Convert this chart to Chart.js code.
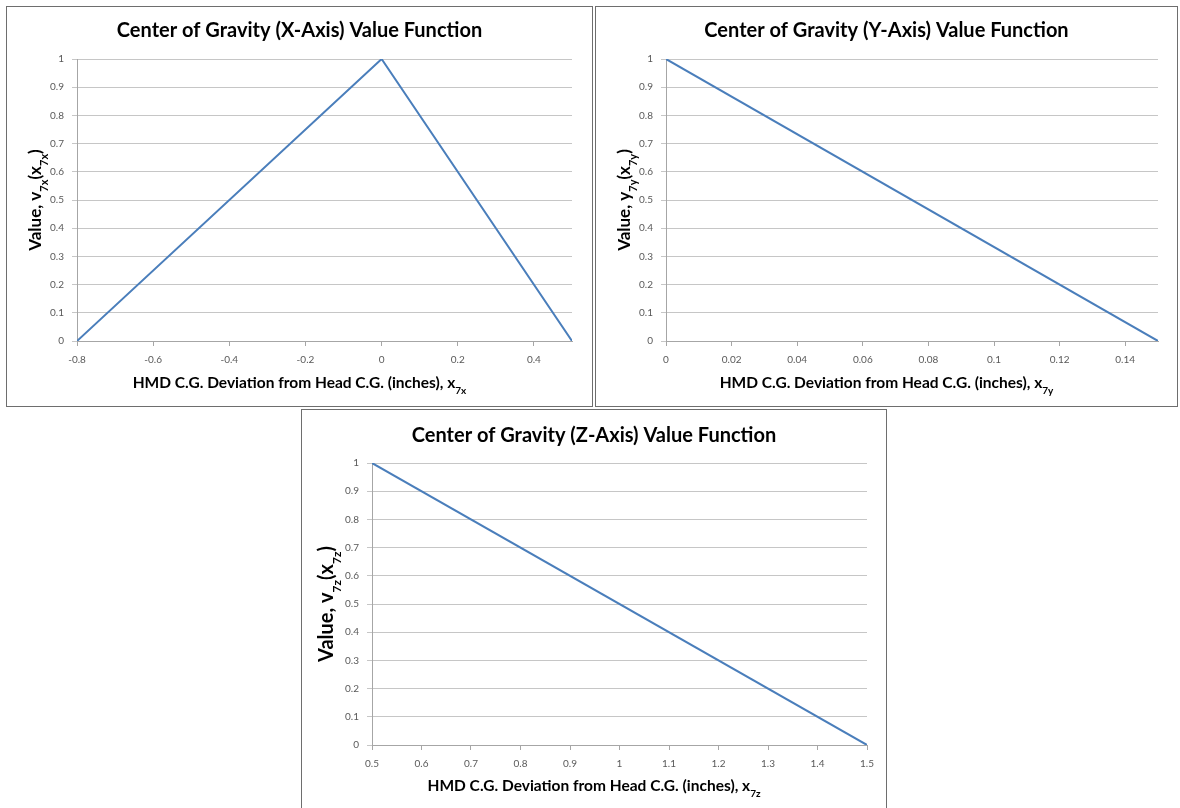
<!DOCTYPE html>
<html>
<head>
<meta charset="utf-8">
<title>Center of Gravity Value Functions</title>
<script src="https://cdn.jsdelivr.net/npm/chart.js@4.4.1/dist/chart.umd.min.js"></script>
<style>
  html, body { margin: 0; padding: 0; background: #fff; width: 1180px; height: 808px; overflow: hidden; }
  .panel { position: absolute; border: 1px solid #6e6e6e; background: #fff; }
  .panel canvas { display: block; }
</style>
</head>
<body>
<div class="panel" style="left:6px; top:6px;"><canvas id="cgX" width="585" height="399"></canvas></div>
<div class="panel" style="left:595px; top:6px;"><canvas id="cgY" width="581" height="399"></canvas></div>
<div class="panel" style="left:301px; top:409px;"><canvas id="cgZ" width="584" height="399"></canvas></div>
<script>
// Value axis (shared by all three panels)
const valueTicks = [0, 0.1, 0.2, 0.3, 0.4, 0.5, 0.6, 0.7, 0.8, 0.9, 1];

// X-axis deviation value function
const devX = [-0.8, 0, 0.5];
const valX = [0, 1, 0];
const devXTicks = [-0.8, -0.6, -0.4, -0.2, 0, 0.2, 0.4];

// Y-axis deviation value function
const devY = [0, 0.15];
const valY = [1, 0];
const devYTicks = [0, 0.02, 0.04, 0.06, 0.08, 0.1, 0.12, 0.14];

// Z-axis deviation value function
const devZ = [0.5, 1.5];
const valZ = [1, 0];
const devZTicks = [0.5, 0.6, 0.7, 0.8, 0.9, 1, 1.1, 1.2, 1.3, 1.4, 1.5];

const FONT = 'Lato, "Open Sans", "DejaVu Sans", sans-serif';
const fmt = v => String(+Number(v).toFixed(4));

// Draws a run of text pieces, some of them as subscripts, centred on (0,0)
function drawRich(ctx, parts, size) {
  const subSize = Math.round(size * 0.62);
  const fontFor = sub => 'bold ' + (sub ? subSize : size) + 'px ' + FONT;
  let total = 0;
  const widths = parts.map(p => {
    ctx.font = fontFor(p[1]);
    const w = ctx.measureText(p[0]).width;
    total += w;
    return w;
  });
  let x = -total / 2;
  ctx.textAlign = 'left';
  ctx.textBaseline = 'alphabetic';
  parts.forEach((p, i) => {
    ctx.font = fontFor(p[1]);
    ctx.fillText(p[0], x, p[1] ? size * 0.36 + size * 0.32 : size * 0.32);
    x += widths[i];
  });
}

const textPlugin = {
  id: 'panelText',
  afterDraw(chart, args, opts) {
    const ctx = chart.ctx;
    const area = chart.chartArea;
    const w = chart.width;
    ctx.save();
    ctx.fillStyle = '#000';
    // chart title
    ctx.font = 'bold ' + opts.titleSize + 'px ' + FONT;
    ctx.textAlign = 'center';
    ctx.textBaseline = 'middle';
    ctx.fillText(opts.title, w / 2, opts.titleY);
    // horizontal axis title
    ctx.save();
    ctx.translate(w / 2, opts.xTitleY);
    drawRich(ctx, opts.xTitle, opts.xTitleSize);
    ctx.restore();
    // vertical axis title
    ctx.save();
    ctx.translate(opts.yTitleX, (area.top + area.bottom) / 2);
    ctx.rotate(-Math.PI / 2);
    drawRich(ctx, opts.yTitle, opts.yTitleSize);
    ctx.restore();
    ctx.restore();
  }
};

function makeChart(id, xs, ys, xTicks, text, pad) {
  const points = xs.map((x, i) => ({ x: x, y: ys[i] }));
  return new Chart(document.getElementById(id), {
    type: 'line',
    data: {
      datasets: [{
        data: points,
        borderColor: '#4a7ebb',
        borderWidth: 2,
        pointRadius: 0,
        tension: 0,
        fill: false
      }]
    },
    options: {
      responsive: false,
      animation: false,
      devicePixelRatio: 1,
      events: [],
      layout: { padding: pad },
      plugins: {
        legend: { display: false },
        tooltip: { enabled: false },
        title: { display: false },
        panelText: text
      },
      scales: {
        x: {
          type: 'linear',
          min: Math.min(...xs),
          max: Math.max(...xs),
          afterBuildTicks: s => { s.ticks = xTicks.map(v => ({ value: v })); },
          afterFit: s => { s.height = 28; },
          grid: { drawOnChartArea: false, drawTicks: true, tickLength: 5, color: '#a6a6a6' },
          border: { display: true, color: '#a6a6a6', width: 1 },
          ticks: {
            padding: 8,
            color: '#595959',
            font: { family: FONT, size: 10 },
            maxRotation: 0,
            autoSkip: false,
            callback: v => fmt(v)
          }
        },
        y: {
          type: 'linear',
          min: 0,
          max: 1,
          afterBuildTicks: s => { s.ticks = valueTicks.map(v => ({ value: v })); },
          afterFit: s => { s.width = 70; },
          grid: { color: '#c6c6c6', lineWidth: 1, drawTicks: true, tickLength: 5 },
          border: { display: true, color: '#a6a6a6', width: 1 },
          ticks: {
            padding: 8,
            color: '#595959',
            font: { family: FONT, size: 10 },
            autoSkip: false,
            callback: v => fmt(v)
          }
        }
      }
    },
    plugins: [textPlugin]
  });
}

makeChart('cgX', devX, valX, devXTicks, {
  title: 'Center of Gravity (X-Axis) Value Function', titleSize: 20, titleY: 24,
  xTitle: [['HMD C.G. Deviation from Head C.G. (inches), x'], ['7x', 1]], xTitleSize: 15.5, xTitleY: 376,
  yTitle: [['Value, v'], ['7x', 1], ['(x'], ['7x', 1], [')']], yTitleSize: 17, yTitleX: 29
}, { left: 0, right: 20, top: 52, bottom: 37 });

makeChart('cgY', devY, valY, devYTicks, {
  title: 'Center of Gravity (Y-Axis) Value Function', titleSize: 20, titleY: 24,
  xTitle: [['HMD C.G. Deviation from Head C.G. (inches), x'], ['7y', 1]], xTitleSize: 15.5, xTitleY: 376,
  yTitle: [['Value, y'], ['7y', 1], ['(x'], ['7y', 1], [')']], yTitleSize: 17, yTitleX: 29
}, { left: 0, right: 19, top: 52, bottom: 37 });

makeChart('cgZ', devZ, valZ, devZTicks, {
  title: 'Center of Gravity (Z-Axis) Value Function', titleSize: 20, titleY: 26,
  xTitle: [['HMD C.G. Deviation from Head C.G. (inches), x'], ['7z', 1]], xTitleSize: 15.5, xTitleY: 376,
  yTitle: [['Value, v'], ['7z', 1], ['(x'], ['7z', 1], [')']], yTitleSize: 20, yTitleX: 25
}, { left: 0, right: 19, top: 53, bottom: 36 });
</script>
</body>
</html>
